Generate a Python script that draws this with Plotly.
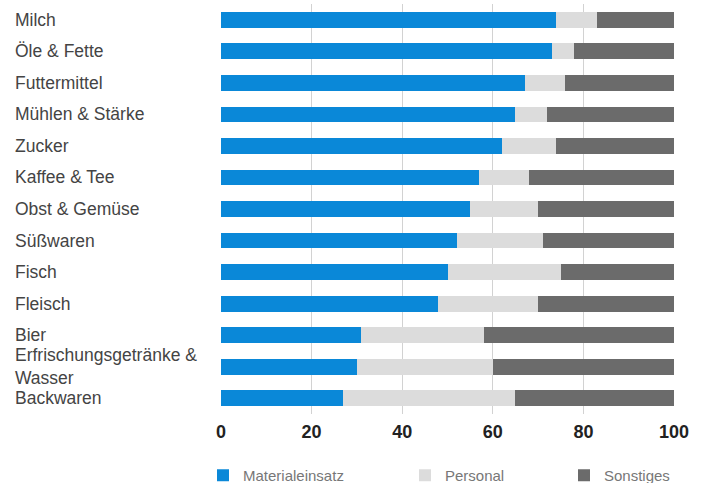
import plotly.graph_objects as go

categories = ["Milch", "Öle & Fette", "Futtermittel", "Mühlen & Stärke", "Zucker",
              "Kaffee & Tee", "Obst & Gemüse", "Süßwaren", "Fisch", "Fleisch", "Bier",
              "Erfrischungsgetränke & Wasser", "Backwaren"]
materialeinsatz = [74, 73, 67, 65, 62, 57, 55, 52, 50, 48, 31, 30, 27]
personal = [9, 5, 9, 7, 12, 11, 15, 19, 25, 22, 27, 30, 38]
sonstiges = [17, 22, 24, 28, 26, 32, 30, 29, 25, 30, 42, 40, 35]
x_ticks = [0, 20, 40, 60, 80, 100]

W, H = 704, 483
L, R, T, B = 221, 30, 4, 69
plot_w = W - L - R

series = [
    ("Materialeinsatz", materialeinsatz, "#0A88D8", "legend", 243),
    ("Personal", personal, "#DCDCDC", "legend2", 445),
    ("Sonstiges", sonstiges, "#6B6B6B", "legend3", 604),
]

legend_font = dict(family="Liberation Sans, Arial, sans-serif", size=15, color="#777777")

fig = go.Figure()
legend_layouts = {}
for name, vals, col, lg, text_x in series:
    fig.add_trace(go.Bar(
        y=categories, x=vals, name=name, orientation="h",
        marker=dict(color=col, line=dict(width=0)), width=0.5,
        legend=lg,
    ))
    legend_layouts[lg] = dict(
        xref="container", yref="container",
        x=(text_x - 40) / W, xanchor="left",
        y=(H - 459) / H, yanchor="top",
        orientation="h", font=legend_font, itemwidth=30,
        bgcolor="rgba(0,0,0,0)", borderwidth=0,
    )

label_font = dict(family="Liberation Sans, Arial, sans-serif", size=17.5, color="#444444")
wrap_map = {"Erfrischungsgetränke & Wasser": "Erfrischungsgetränke &<br>Wasser"}
for cat in categories:
    fig.add_annotation(
        x=(13 - L) / plot_w, xref="paper", xanchor="left", align="left",
        y=cat, yref="y", yanchor="middle",
        text=wrap_map.get(cat, cat), showarrow=False, font=label_font,
    )

fig.update_layout(
    width=W, height=H,
    margin=dict(l=L, r=R, t=T, b=B, pad=0),
    barmode="stack",
    paper_bgcolor="white", plot_bgcolor="white",
    showlegend=True,
    xaxis=dict(
        range=[0, 100], tickvals=x_ticks, ticktext=[str(v) for v in x_ticks],
        showgrid=True, gridcolor="#D2D2D2", gridwidth=1,
        zeroline=False, showline=False, ticks="",
        tickfont=dict(family="Liberation Sans, Arial, sans-serif", size=18, color="#222222", weight="bold"),
        ticklabelstandoff=5,
    ),
    yaxis=dict(
        autorange="reversed", showticklabels=False, showgrid=False,
        zeroline=False, showline=False, ticks="",
    ),
    **legend_layouts,
)

fig.write_html("out.html")
